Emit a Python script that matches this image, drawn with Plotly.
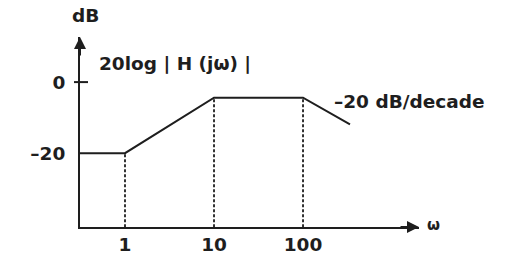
import math
import plotly.graph_objects as go

# Bode asymptote
omega = [0.312, 1, 10, 100, 337]
mag_db = [-20, -20, -4.4, -4.4, -11.9]
break_freqs = [1, 10, 100]
break_db = [-20, -4.4, -4.4]
x_tick_vals = [1, 10, 100]
x_tick_text = ["1", "10", "100"]
y_tick_vals = [0, -20]
y_tick_text = ["0", "\u201320"]

x_range_log = [-0.5056, 3.303]
y_range = [-40.8, 12.7]

INK = "#1e1e1e"
FONT = dict(family="DejaVu Sans", size=18.5, color=INK, weight="bold")

fig = go.Figure()

# dashed drop lines
for w, d in zip(break_freqs, break_db):
    fig.add_trace(go.Scatter(x=[w, w], y=[y_range[0] - 1.5, d], mode="lines",
                             line=dict(color=INK, width=1.8, dash="3px,2px"),
                             cliponaxis=False,
                             hoverinfo="skip", showlegend=False))

fig.add_trace(go.Scatter(x=omega, y=mag_db, mode="lines",
                         line=dict(color=INK, width=2),
                         hoverinfo="skip", showlegend=False))

fig.update_layout(
    width=528, height=260,
    margin=dict(l=80, r=109, t=37, b=33, autoexpand=False),
    paper_bgcolor="white", plot_bgcolor="white",
    showlegend=False,
    font=FONT,
    xaxis=dict(type="log", range=x_range_log, showgrid=False, zeroline=False,
               automargin=False,
               showline=True, linecolor=INK, linewidth=2,
               tickvals=x_tick_vals, ticktext=x_tick_text, ticks="",
               tickfont=FONT, ticklabelstandoff=0),
    yaxis=dict(range=y_range, showgrid=False, zeroline=False,
               automargin=False,
               showline=True, linecolor=INK, linewidth=2,
               tickvals=y_tick_vals, ticktext=y_tick_text, ticks="",
               tickfont=FONT, ticklabelstandoff=9),
)

# 0 dB tick crossing the axis
fig.add_shape(type="line", xref="paper", yref="y", x0=-6/339, x1=8/339,
              y0=0, y1=0, layer="above", line=dict(color=INK, width=2))

# axis arrowheads
fig.add_annotation(xref="paper", yref="paper", x=0, y=1, ax=0, ay=20,
                   showarrow=True, arrowhead=2, arrowsize=1.2, arrowwidth=2,
                   arrowcolor=INK, text="")
fig.add_annotation(xref="paper", yref="paper", x=1, y=0, ax=-20, ay=0,
                   showarrow=True, arrowhead=2, arrowsize=1.2, arrowwidth=2,
                   arrowcolor=INK, text="")

fig.add_annotation(xref="paper", yref="paper", x=5/339, y=1 + 22/190,
                   text="dB", showarrow=False, font=FONT,
                   xanchor="center", yanchor="middle")
fig.add_annotation(xref="paper", yref="paper", x=1 + 14/339, y=2/190,
                   text="\u03c9", showarrow=False,
                   font=dict(family="DejaVu Sans", size=15, color=INK, weight="bold"),
                   xanchor="center", yanchor="middle")
fig.add_annotation(xref="x", yref="y", x=math.log10(0.48), y=5.35,
                   text="20log | H (j\u03c9) |", showarrow=False, font=FONT,
                   xanchor="left", yanchor="middle")
fig.add_annotation(xref="x", yref="y", x=math.log10(212), y=-5.35,
                   text="\u201320 dB/decade", showarrow=False, font=FONT,
                   xanchor="left", yanchor="middle")

fig.write_html("out.html")
